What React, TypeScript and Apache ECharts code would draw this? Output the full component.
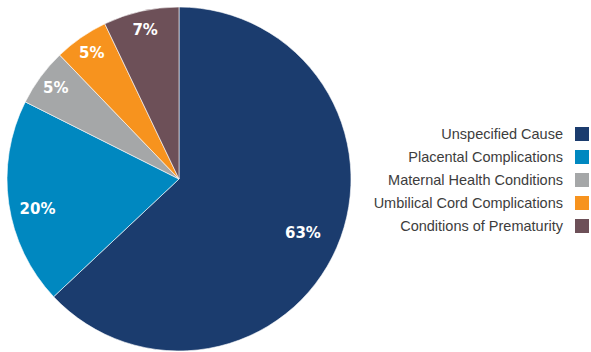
import React, { useEffect, useRef } from "react";
import * as echarts from "echarts";

const categories = [
  "Unspecified Cause",
  "Placental Complications",
  "Maternal Health Conditions",
  "Umbilical Cord Complications",
  "Conditions of Prematurity",
];
const values = [63, 19.4, 5.4, 5.1, 7.1];
const labelTexts = ["63%", "20%", "5%", "5%", "7%"];
const colors = ["#1b3c6e", "#0088c0", "#a5a7a8", "#f7931e", "#6d5058"];
const labelRing = [0, 1, 2, 2, 2];

export default function App() {
  const ref = useRef<HTMLDivElement>(null);
  useEffect(() => {
    if (!ref.current) return;
    const chart = echarts.init(ref.current, null, { renderer: "svg" });
    const labelStyle = {
      color: "#ffffff",
      fontFamily: "DejaVu Sans",
      fontWeight: "bold" as const,
      fontSize: 15,
    };
    const baseData = categories.map((name, i) => ({
      name,
      value: values[i],
      itemStyle: { color: colors[i] },
    }));
    const overlay = (ring: number, radius: [number, number]) => ({
      type: "pie" as const,
      center: [179, 179],
      radius,
      startAngle: 90,
      silent: true,
      legendHoverLink: false,
      data: categories.map((name, i) => ({
        name: name + "_lbl",
        value: values[i],
        itemStyle: { color: "rgba(0,0,0,0)" },
        label: {
          show: labelRing[i] === ring,
          position: "inside",
          formatter: () => labelTexts[i],
          ...labelStyle,
        },
      })),
      labelLayout: (p: any) => (p.dataIndex === 1 ? { dy: 9 } : {}),
      labelLine: { show: false },
      emphasis: { disabled: true },
    });
    chart.setOption({
      animation: false,
      legend: {
        orient: "vertical",
        right: 0,
        top: 125,
        padding: 0,
        align: "right",
        itemWidth: 16,
        itemHeight: 16,
        itemGap: 5,
        icon: "rect",
        data: categories,
        selectedMode: false,
        textStyle: {
          fontFamily: "Liberation Sans, Arial, sans-serif",
          fontSize: 14.5,
          lineHeight: 16,
          color: "#3d3d3d",
          padding: [0, 6, 0, 0],
        },
      },
      series: [
        {
          type: "pie",
          center: [179, 179],
          radius: [0, 172],
          startAngle: 90,
          data: baseData,
          label: { show: false },
          labelLine: { show: false },
          itemStyle: { borderColor: "#ffffff", borderWidth: 0.6 },
          emphasis: { disabled: true },
        },
        overlay(0, [92, 172]),
        overlay(1, [108, 172]),
        overlay(2, [128, 172]),
      ],
    });
    return () => chart.dispose();
  }, []);
  return (
    <div
      ref={ref}
      style={{ position: "fixed", left: 0, top: 0, width: 591, height: 352, background: "#fff" }}
    />
  );
}
